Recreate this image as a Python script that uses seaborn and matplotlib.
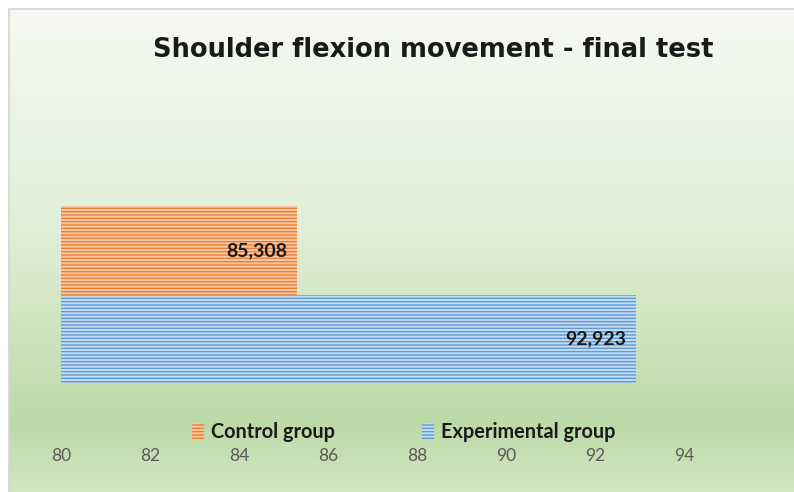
import numpy as np
import pandas as pd
import matplotlib
matplotlib.use("Agg")
import matplotlib.pyplot as plt
from matplotlib.colors import LinearSegmentedColormap
from matplotlib.patches import Rectangle
import seaborn as sns

# ---- data ----
groups = ["Control group", "Experimental group"]
values = [85.308, 92.923]
tick_values = [80, 82, 84, 86, 88, 90, 92, 94]
title = "Shoulder flexion movement - final test"

face_colors = ["#f7c8a6", "#c5dbf1"]
stripe_colors = ["#ed7d31", "#5b9bd5"]

df = pd.DataFrame({"group": groups, "value": values})

sns.set_theme(style="white")
plt.rcParams["font.family"] = ["Lato", "DejaVu Sans"]
plt.rcParams["hatch.linewidth"] = 1.0

W, H = 794, 492
fig = plt.figure(figsize=(W / 100, H / 100), dpi=100)
fig.patch.set_facecolor("white")

# background gradient of chart area
bg = fig.add_axes([9 / W, -0.01, 1 - 9 / W + 0.01, (H - 9) / H + 0.01], zorder=0)
cmap = LinearSegmentedColormap.from_list(
    "g", [(0.0, "#f6f9f3"), (0.45, "#e1efd7"), (0.85, "#bcdaa8"), (1.0, "#d3e8c5")])
grad = np.linspace(0, 1, 256).reshape(-1, 1)
bg.imshow(grad, aspect="auto", cmap=cmap, extent=[0, 1, 1, 0])
bg.set_axis_off()
fig.patches.append(Rectangle((9 / W, -0.1), 1.2, (H - 9) / H + 0.1, transform=fig.transFigure,
                             fill=False, edgecolor="#d4d4d4", linewidth=1.2, zorder=1))

# main axes
top_px, bot_px = 120, 440
ax = fig.add_axes([61 / W, (H - bot_px) / H, (684 - 61) / W, (bot_px - top_px) / H], zorder=2)
ax.set_facecolor("none")

sns.barplot(data=df, x="value", y="group", hue="group", orient="h", width=1.0,
            palette=face_colors, legend=False, ax=ax, saturation=1)

for p, fc, sc in zip(ax.patches, face_colors, stripe_colors):
    p.set_facecolor(fc)
    p.set_edgecolor(sc)
    p.set_linewidth(0)
    p.set_hatch("-----")

ax.set_xlim(80, 94)
ax.set_ylim(2.144, -1.472)
ax.set_xticks(tick_values)
ax.set_xticklabels([str(t) for t in tick_values])
ax.tick_params(axis="x", length=0, pad=6, labelsize=12.5, labelcolor="#595959")
ax.set_yticks([])
ax.set_xlabel("")
ax.set_ylabel("")
for s in ax.spines.values():
    s.set_visible(False)

for i, v in enumerate(values):
    ax.annotate(f"{v:.3f}".replace(".", ","), xy=(v, i), xytext=(-7, 0),
                textcoords="offset points", ha="right", va="center",
                fontsize=14, fontweight="bold", color="#1a1a1a")

leg = ax.legend(handles=list(ax.patches), labels=groups, loc="center",
                bbox_to_anchor=(404 / W, (H - 432) / H), bbox_transform=fig.transFigure,
                ncol=2, frameon=False, handlelength=0.6, handleheight=0.9,
                handletextpad=0.35, columnspacing=4.4,
                prop={"size": 14.3, "weight": "bold"})
for t in leg.get_texts():
    t.set_color("#1a1a1a")

fig.text(433 / W, (H - 50) / H, title, ha="center", va="center",
         fontsize=18.5, fontweight="bold", family=["DejaVu Sans"], color="#1a1a1a")

fig.savefig("out.png", dpi=100)
